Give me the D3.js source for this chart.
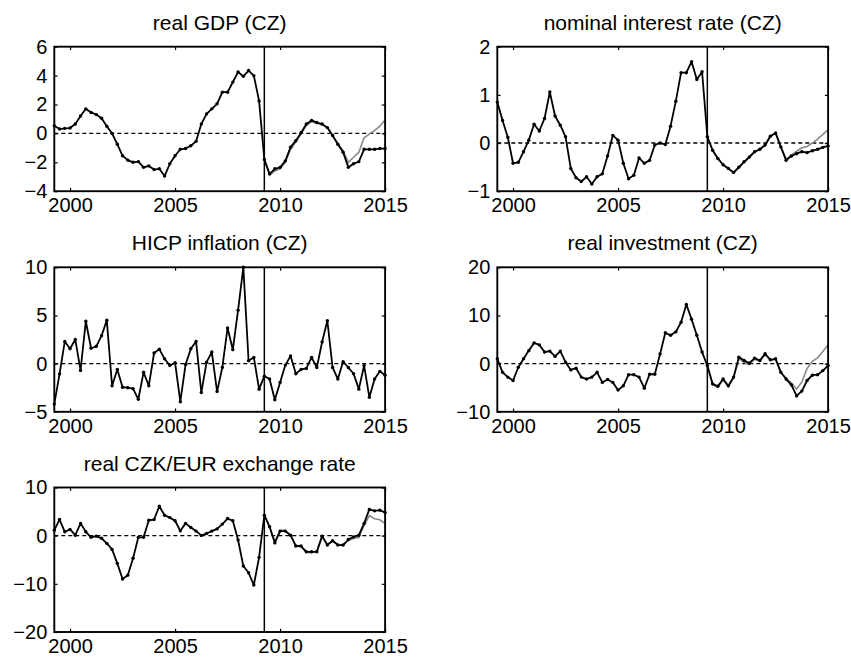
<!DOCTYPE html>
<html><head><meta charset="utf-8">
<script src="https://cdn.jsdelivr.net/npm/d3@7"></script>
<style>
body{margin:0;background:#fff}
svg{display:block}
text{font-family:"Liberation Sans",Arial,Helvetica,sans-serif;fill:#000}
</style>
</head><body>
<svg id="chart" width="851" height="659"></svg>
<script>
// ---- data ----
const startYear = 1999.25;          // 1999Q2
const nQuarters = 64;               // through 2015Q1
const altStartIndex = 40;           // 2009Q2, start of alternative path
const breakDate = 2009.25;
const xTicks = [2000, 2005, 2010, 2015];

const titles = ["real GDP (CZ)", "nominal interest rate (CZ)", "HICP inflation (CZ)", "real investment (CZ)", "real CZK/EUR exchange rate"];
const yDomains = [[-4, 6], [-1, 2], [-5, 10], [-10, 20], [-20, 10]];
const yTicks = [[-4, -2, 0, 2, 4, 6], [-1, 0, 1, 2], [-5, 0, 5, 10], [-10, 0, 10, 20], [-20, -10, 0, 10]];

const gdp = [0.53,0.3,0.35,0.37,0.65,1.2,1.7,1.45,1.3,1.05, 0.5,0.0,-0.75,-1.55,-1.85,-2.0,-1.95,-2.35,-2.25,-2.5,
  -2.45,-2.95,-2.1,-1.55,-1.1,-1.05,-0.85,-0.55,0.65,1.35, 1.7,2.05,2.85,2.85,3.55,4.25,3.95,4.35,4.0,2.25,
  -1.8,-2.8,-2.45,-2.35,-1.9,-0.95,-0.5,0.05,0.65,0.9, 0.75,0.65,0.4,-0.15,-0.75,-1.3,-2.35,-2.1,-1.95,-1.1,
  -1.1,-1.1,-1.05,-1.05];
const gdpAlt = [-1.8,-2.9,-2.6,-2.45,-2.0,-1.1,-0.6,-0.05,0.55,0.8,0.7,0.6,0.4,-0.15,-0.7,-1.2,-2.0,-1.65,-1.3,-0.3,-0.05,0.2,0.5,0.95];

const rate = [0.85,0.47,0.12,-0.42,-0.4,-0.18,0.06,0.39,0.25,0.51, 1.06,0.56,0.37,0.13,-0.53,-0.72,-0.8,-0.7,-0.85,-0.7,
  -0.64,-0.27,0.16,0.06,-0.42,-0.74,-0.67,-0.31,-0.42,-0.36, -0.04,0.0,-0.03,0.35,0.87,1.46,1.46,1.69,1.32,1.48,
  0.13,-0.15,-0.32,-0.45,-0.53,-0.61,-0.5,-0.39,-0.29,-0.18, -0.13,-0.04,0.14,0.21,-0.08,-0.36,-0.27,-0.22,-0.18,-0.2,
  -0.16,-0.13,-0.09,-0.06];
const rateAlt = [0.13,-0.15,-0.32,-0.45,-0.53,-0.62,-0.52,-0.4,-0.3,-0.19,-0.13,-0.04,0.14,0.21,-0.08,-0.33,-0.25,-0.17,-0.1,-0.07,0.0,0.08,0.18,0.28];

const hicp = [-4.2,-1.07,2.3,1.55,2.5,-0.7,4.4,1.6,1.8,2.9, 4.5,-2.3,-0.6,-2.45,-2.5,-2.6,-3.7,-0.9,-2.3,1.1,
  1.5,0.5,-0.2,0.1,-3.95,-0.1,1.55,2.3,-3.0,0.15, 1.2,-2.9,-0.4,3.7,1.45,5.55,10.0,0.3,0.65,-2.65,
  -1.3,-1.6,-3.75,-1.95,-0.15,0.8,-1.05,-0.6,-0.5,0.65, -0.4,2.25,4.45,-0.4,-1.6,0.2,-0.4,-1.05,-2.65,-0.2,
  -3.5,-1.6,-0.8,-1.2];
const hicpAlt = null;

const invest = [1.0,-1.8,-2.8,-3.5,-0.75,1.0,2.7,4.3,3.9,2.4, 2.6,1.5,2.6,0.3,-1.3,-0.95,-2.8,-3.2,-2.8,-1.8,
  -3.9,-3.3,-3.9,-5.5,-4.6,-2.3,-2.3,-2.8,-5.1,-2.2, -2.2,2.0,6.4,5.9,6.6,8.6,12.3,9.2,5.9,2.4,
  -0.4,-4.2,-4.7,-3.2,-4.6,-2.8,1.35,0.65,0.1,1.15, 0.65,2.05,0.8,1.0,-1.8,-3.2,-4.4,-6.7,-5.7,-3.5,
  -2.4,-2.3,-1.45,-0.4];
const investAlt = [-0.4,-4.4,-4.9,-3.4,-4.8,-3.0,1.0,0.3,-0.2,0.9,0.5,1.9,0.7,0.9,-1.9,-3.0,-4.0,-5.3,-3.8,-1.0,0.5,1.2,2.5,3.9];

const fx = [1.15,3.35,0.8,1.3,0.1,2.55,0.8,-0.35,-0.1,-0.55, -1.6,-2.85,-5.75,-9.0,-8.2,-4.7,-0.35,-0.35,3.2,3.35,
  6.1,4.25,3.75,3.1,1.0,2.55,1.7,0.95,0.05,0.45, 0.95,1.4,2.4,3.55,3.1,-0.9,-6.3,-7.7,-10.25,-4.5,
  4.25,1.85,-1.5,0.95,0.95,0.1,-2.15,-2.15,-3.35,-3.35, -3.35,-0.1,-1.95,-1.05,-1.95,-1.95,-0.8,-0.25,0.1,2.55,
  5.45,5.15,5.3,4.8];
const fxAlt = [4.25,1.85,-1.3,1.1,1.1,0.1,-2.0,-2.3,-3.5,-3.5,-3.2,-0.1,-1.9,-1.0,-1.9,-1.9,-1.0,-0.6,-0.4,2.1,4.15,3.5,3.3,2.5];

const mainSeries = [gdp, rate, hicp, invest, fx];
const altSeries = [gdpAlt, rateAlt, hicpAlt, investAlt, fxAlt];

// ---- layout ----
const dates = d3.range(nQuarters).map(i => startYear + i / 4);
const svg = d3.select("#chart");
const colX = [54.3, 497.3];
const rowY = [46.7, 267.3, 487.5];
const W = 330.8, H = 144.5;
const fmt = v => String(v).replace("-", "\u2212");

titles.forEach((title, k) => {
  const x0 = colX[k % 2], y0 = rowY[Math.floor(k / 2)];
  const g = svg.append("g").attr("transform", `translate(${x0},${y0})`);
  const x = d3.scaleLinear().domain([startYear, 2015]).range([0, W]);
  const y = d3.scaleLinear().domain(yDomains[k]).range([H, 0]);

  // zero line
  g.append("line").attr("x1", 0).attr("x2", W).attr("y1", y(0)).attr("y2", y(0))
    .attr("stroke", "#000").attr("stroke-width", 1.4).attr("stroke-dasharray", "4,3");

  const line = d3.line().x(d => x(d[0])).y(d => y(d[1]));
  const alt = altSeries[k];
  if (alt) {
    const altPts = alt.map((v, i) => [dates[altStartIndex + i], v]);
    g.append("path").datum(altPts).attr("d", line).attr("fill", "none")
      .attr("stroke", "#8a8a8a").attr("stroke-width", 1.6);
  }
  const pts = mainSeries[k].map((v, i) => [dates[i], v]);
  g.append("path").datum(pts).attr("d", line).attr("fill", "none")
    .attr("stroke", "#000").attr("stroke-width", 1.8).attr("stroke-linejoin", "round");
  g.selectAll("circle.m").data(pts).join("circle").attr("class", "m")
    .attr("cx", d => x(d[0])).attr("cy", d => y(d[1])).attr("r", 1.7).attr("fill", "#000");

  // vertical break line
  g.append("line").attr("x1", x(breakDate)).attr("x2", x(breakDate)).attr("y1", 0).attr("y2", H)
    .attr("stroke", "#000").attr("stroke-width", 1.5);

  // axes (inward ticks on all sides)
  const tl = 3.3;
  const axB = g.append("g").attr("transform", `translate(0,${H})`)
    .call(d3.axisBottom(x).tickValues(xTicks).tickSize(-tl).tickPadding(6).tickFormat(d3.format("d")));
  const axT = g.append("g").call(d3.axisTop(x).tickValues(xTicks).tickSize(-tl).tickFormat(""));
  const axL = g.append("g").call(d3.axisLeft(y).tickValues(yTicks[k]).tickSize(-tl).tickPadding(7).tickFormat(fmt));
  const axR = g.append("g").attr("transform", `translate(${W},0)`)
    .call(d3.axisRight(y).tickValues(yTicks[k]).tickSize(-tl).tickFormat(""));
  [axB, axT, axL, axR].forEach(a => {
    a.select(".domain").remove();
    a.selectAll(".tick line").attr("stroke", "#000").attr("stroke-width", 1.2);
    a.selectAll("text").attr("font-size", 20).attr("font-family", "Liberation Sans, Arial, sans-serif").attr("fill", "#000");
  });
  axB.selectAll("text").attr("dy", "0.75em");

  // box
  g.append("rect").attr("x", 0).attr("y", 0).attr("width", W).attr("height", H)
    .attr("fill", "none").attr("stroke", "#000").attr("stroke-width", 1.9);

  // title
  g.append("text").attr("x", W / 2).attr("y", -17).attr("text-anchor", "middle")
    .attr("font-size", 21).text(title);
});
</script>
</body></html>
